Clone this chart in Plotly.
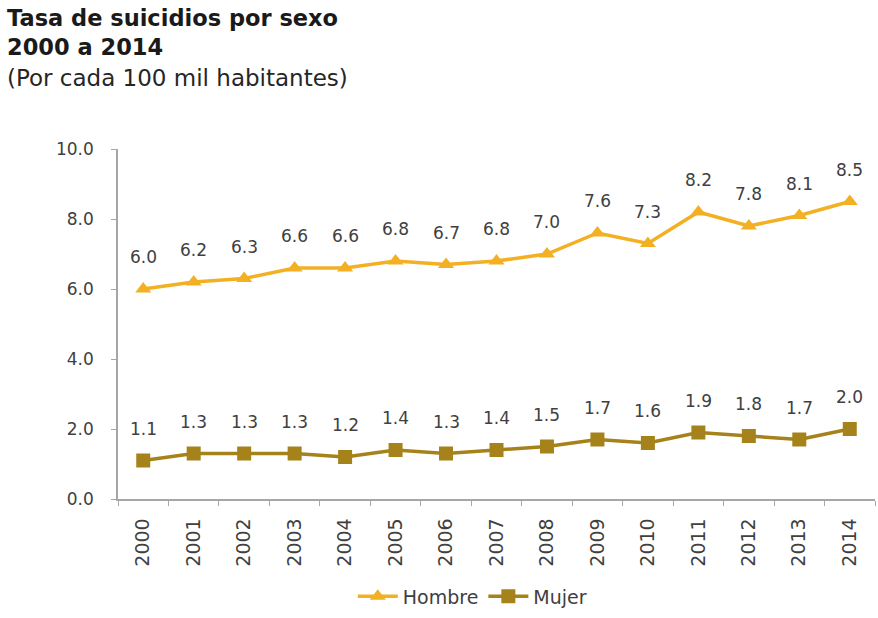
import plotly.graph_objects as go

years = [str(y) for y in range(2000, 2015)]
hombre = [6.0, 6.2, 6.3, 6.6, 6.6, 6.8, 6.7, 6.8, 7.0, 7.6, 7.3, 8.2, 7.8, 8.1, 8.5]
mujer = [1.1, 1.3, 1.3, 1.3, 1.2, 1.4, 1.3, 1.4, 1.5, 1.7, 1.6, 1.9, 1.8, 1.7, 2.0]
y_ticks = [0, 2, 4, 6, 8, 10]

c_h = "#F2B022"
c_m = "#A5821A"
FONT = "DejaVu Sans, sans-serif"
label_font = dict(family=FONT, size=17, color="#404040")

fig = go.Figure()
fig.add_trace(go.Scatter(x=years, y=hombre, name="Hombre", mode="lines+markers",
                         line=dict(color=c_h, width=3.5),
                         marker=dict(symbol="triangle-up", size=14, color=c_h)))
fig.add_trace(go.Scatter(x=years, y=mujer, name="Mujer", mode="lines+markers",
                         line=dict(color=c_m, width=3.5),
                         marker=dict(symbol="square", size=14, color=c_m)))

annotations = []
for series in (hombre, mujer):
    for i, v in enumerate(series):
        annotations.append(dict(x=i, y=v, xref="x", yref="y", text=f"{v:.1f}",
                                showarrow=False, yshift=32, yanchor="middle",
                                font=label_font))

title_font = dict(family=FONT, size=22.5, color="#1a1a1a")
annotations += [
    dict(text="<b>Tasa de suicidios por sexo</b>", xref="paper", yref="paper",
         x=-113/757, y=(499-18)/350, xanchor="left", yanchor="middle",
         showarrow=False, font=title_font),
    dict(text="<b>2000 a 2014</b>", xref="paper", yref="paper",
         x=-113/757, y=(499-47)/350, xanchor="left", yanchor="middle",
         showarrow=False, font=title_font),
    dict(text="(Por cada 100 mil habitantes)", xref="paper", yref="paper",
         x=-113/757, y=(499-78)/350, xanchor="left", yanchor="middle",
         showarrow=False, font=dict(family=FONT, size=23, color="#262626")),
]

fig.update_layout(
    width=878, height=618,
    margin=dict(l=118, r=3, t=149, b=119),
    paper_bgcolor="white", plot_bgcolor="white",
    showlegend=True,
    legend=dict(orientation="h", x=0.468, y=-0.278, xanchor="center", yanchor="middle",
                font=dict(family=FONT, size=19, color="#404040"),
                itemwidth=40, traceorder="normal"),
    annotations=annotations,
    xaxis=dict(type="category", range=[-0.5, 14.5], showline=True, linecolor="#A6A6A6",
               linewidth=1.5, ticks="outside", tickson="boundaries", ticklen=5,
               tickcolor="#A6A6A6", tickangle=-90, showgrid=False, automargin=False,
               ticklabelstandoff=10,
               tickfont=dict(family=FONT, size=19, color="#404040")),
    yaxis=dict(range=[0, 10], tickvals=y_ticks, ticktext=[f"{v:.1f}" for v in y_ticks],
               showline=True, linecolor="#A6A6A6", linewidth=1.5, ticks="outside",
               ticklen=5, tickcolor="#A6A6A6", showgrid=False, zeroline=False,
               ticklabelstandoff=14, automargin=False,
               tickfont=dict(family=FONT, size=17, color="#404040")),
)

fig.write_html("out.html")
